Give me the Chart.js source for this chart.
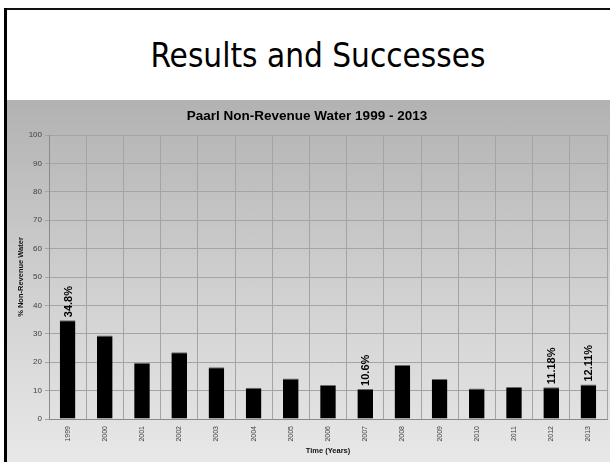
<!DOCTYPE html>
<html>
<head>
<meta charset="utf-8">
<script src="https://cdn.jsdelivr.net/npm/chart.js@4"></script>
<style>
  html, body { margin: 0; padding: 0; background: #fff; }
  body { width: 610px; height: 462px; position: relative; overflow: hidden; }
  #frame-top { position: absolute; left: 4px; top: 8px; width: 606px; height: 2px; background: #111; }
  #frame-left { position: absolute; left: 4px; top: 8px; width: 3px; height: 454px; background: #000; }
  #slide-title {
    position: absolute; left: 0; top: 39px; width: 636px; text-align: center;
    font-family: "DejaVu Sans Condensed", "DejaVu Sans", sans-serif; font-stretch: condensed;
    font-size: 33px; line-height: 33px; color: #000;
  }
  #chart-box {
    position: absolute; left: 7px; top: 100px; width: 603px; height: 362px;
    background: linear-gradient(to bottom, #b2b2b2 0%, #cfcfcf 50%, #e8e8e8 100%);
  }
</style>
</head>
<body>
<div id="frame-top"></div>
<div id="frame-left"></div>
<div id="slide-title">Results and Successes</div>
<div id="chart-box"><canvas id="nrw-chart" width="603" height="362"></canvas></div>

<script>
let years = ['1999', '2000', '2001', '2002', '2003', '2004', '2005', '2006',
             '2007', '2008', '2009', '2010', '2011', '2012', '2013']
let nrwPercent = [34.8, 29.4, 19.8, 23.5, 18.2, 11.0, 14.3, 12.0,
                  10.6, 19.0, 14.1, 10.7, 11.3, 11.18, 12.11]
// only some bars carry a value label
let barLabels = ['34.8%', null, null, null, null, null, null, null,
                 '10.6%', null, null, null, null, '11.18%', '12.11%']
let yTicks = [0, 10, 20, 30, 40, 50, 60, 70, 80, 90, 100]

let gridColor = '#a4a4a4'
let tickColor = '#404040'
let fontName = '"Liberation Sans", Arial, sans-serif'

// writes the rotated percentage labels above the bars
let barLabelPlugin = {
    id: 'barLabels',
    afterDatasetsDraw(chart) {
        let ctx = chart.ctx
        let bars = chart.getDatasetMeta(0).data
        ctx.save()
        ctx.font = 'bold 11px ' + fontName
        ctx.fillStyle = '#000'
        ctx.textAlign = 'left'
        ctx.textBaseline = 'middle'
        for (let i = 0; i < bars.length; i++) {
            if (!barLabels[i]) continue
            ctx.save()
            ctx.translate(bars[i].x + 1, bars[i].y - 3)
            ctx.rotate(-Math.PI / 2)
            ctx.fillText(barLabels[i], 0, 0)
            ctx.restore()
        }
        ctx.restore()
    }
}

let ctx = document.querySelector('#nrw-chart').getContext('2d')

let chart = new Chart(ctx, {
    type: 'bar',
    data: {
        labels: years,
        datasets: [{
            data: nrwPercent,
            backgroundColor: '#000',
            borderColor: '#6a6a6a',
            borderWidth: { top: 1, left: 0, right: 0, bottom: 0 },
            barPercentage: 0.42,
            categoryPercentage: 1.0
        }]
    },
    options: {
        responsive: false,
        animation: false,
        layout: { padding: { left: 0, right: 3, top: 0, bottom: 0 } },
        plugins: {
            legend: { display: false },
            tooltip: { enabled: false },
            title: {
                display: true,
                text: 'Paarl Non-Revenue Water 1999 - 2013',
                color: '#000',
                font: { family: fontName, size: 13.5, weight: 'bold' },
                padding: { top: 8, bottom: 10.8 }
            }
        },
        scales: {
            x: {
                grid: { color: gridColor, offset: true, drawTicks: false },
                border: { color: '#8a8a8a' },
                ticks: {
                    color: tickColor,
                    font: { family: fontName, size: 7 },
                    minRotation: 90,
                    maxRotation: 90,
                    padding: 7
                },
                title: {
                    display: true,
                    text: 'Time (Years)',
                    color: '#111',
                    font: { family: fontName, size: 7.5, weight: 'bold' },
                    padding: { top: 0, bottom: 6.5 }
                },
                afterFit(scale) { scale.height = 43 }
            },
            y: {
                min: 0,
                max: 100,
                grid: { color: gridColor, tickLength: 4 },
                border: { color: '#8a8a8a' },
                afterBuildTicks(scale) { scale.ticks = yTicks.map(v => ({ value: v })) },
                ticks: {
                    color: tickColor,
                    font: { family: fontName, size: 8 },
                    padding: 3
                },
                title: {
                    display: true,
                    text: '% Non-Revenue Water',
                    color: '#111',
                    font: { family: fontName, size: 7.5, weight: 'bold' },
                    padding: { top: 9.5, bottom: 0 }
                },
                afterFit(scale) { scale.width = 42 }
            }
        }
    },
    plugins: [barLabelPlugin]
})
</script>
</body>
</html>
